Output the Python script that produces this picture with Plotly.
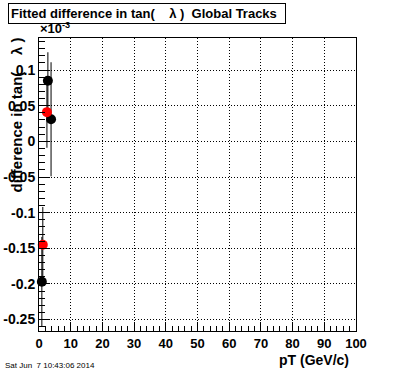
import plotly.graph_objects as go

# ---- data (y values in units of 1e-3) ----
black_pt = [0.9, 2.8, 3.8]
black_val = [-0.197, 0.085, 0.031]
black_err = [0.063, 0.040, 0.080]

red_pt = [1.2, 2.5]
red_val = [-0.145, 0.041]
red_err = [0.053, 0.050]

y_ticks = [-0.25, -0.2, -0.15, -0.1, -0.05, 0, 0.05, 0.1]
y_ticklabels = ["-0.25", "-0.2", "-0.15", "-0.1", "-0.05", "0", "0.05", "0.1"]
x_ticks = [0, 10, 20, 30, 40, 50, 60, 70, 80, 90, 100]

W, H = 396, 372
L, R, T, B = 39, 40, 38, 41
PW, PH = W - L - R, H - T - B


def px(xp):
    return (xp - L) / PW


def py(yp):
    return 1 - (yp - T) / PH


FONT = "Liberation Sans"
GRID_DASH = "1px,2px"

fig = go.Figure()
fig.add_trace(go.Scatter(
    x=black_pt, y=black_val, mode="markers",
    marker=dict(color="black", size=10),
    error_y=dict(type="data", array=black_err, color="black", thickness=1, width=0),
    showlegend=False, cliponaxis=False, hoverinfo="skip",
))
fig.add_trace(go.Scatter(
    x=red_pt, y=red_val, mode="markers",
    marker=dict(color="red", size=10),
    error_y=dict(type="data", array=red_err, color="black", thickness=1, width=0),
    showlegend=False, cliponaxis=False, hoverinfo="skip",
))

fig.update_layout(
    width=W, height=H,
    margin=dict(l=L, r=R, t=T, b=B, autoexpand=False),
    paper_bgcolor="white", plot_bgcolor="white",
    font=dict(family=FONT, color="black"),
    xaxis=dict(
        range=[0, 100], tickvals=x_ticks, automargin=False,
        showline=True, linecolor="black", linewidth=1, mirror=True,
        ticks="inside", ticklen=9, tickcolor="black",
        minor=dict(dtick=2, ticks="inside", ticklen=5, tickcolor="black", showgrid=False),
        showgrid=True, gridcolor="black", griddash=GRID_DASH, gridwidth=1,
        zeroline=False,
        tickfont=dict(size=13, family=FONT, weight="bold"),
    ),
    yaxis=dict(
        range=[-0.266, 0.145], tickvals=y_ticks, ticktext=y_ticklabels, automargin=False,
        showline=True, linecolor="black", linewidth=1, mirror=True,
        ticks="inside", ticklen=11, tickcolor="black",
        minor=dict(dtick=0.01, ticks="inside", ticklen=6, tickcolor="black", showgrid=False),
        showgrid=True, gridcolor="black", griddash=GRID_DASH, gridwidth=1,
        zeroline=False,
        tickfont=dict(size=14, family=FONT, weight="bold"),
    ),
)

annots = [
    dict(text="Fitted difference in tan(\u00a0\u00a0\u00a0\u00a0\u03bb )\u00a0 Global Tracks",
         x=px(8), y=py(3), xanchor="left", yanchor="top",
         font=dict(size=13, weight="bold"), bordercolor="black", borderwidth=1,
         bgcolor="white", borderpad=2, width=272, align="left"),
    dict(text="\u00d710<sup>-3</sup>", x=px(38), y=py(38), xanchor="left", yanchor="bottom",
         font=dict(size=13, weight="bold")),
    dict(text="difference in tan(\u00a0\u00a0\u00a0\u00a0\u03bb )", x=px(16), y=py(36),
         xanchor="center", yanchor="top", textangle=-90,
         font=dict(size=15, weight="bold")),
    dict(text="pT (GeV/c)", x=px(351), y=py(360), xanchor="right", yanchor="middle",
         font=dict(size=14, weight="bold")),
    dict(text="Sat Jun\u00a0 7 10:43:06 2014", x=px(3), y=py(365), xanchor="left", yanchor="middle",
         font=dict(size=8)),
]
for a in annots:
    a.update(xref="paper", yref="paper", showarrow=False)
    fig.add_annotation(**a)

fig.write_html("out.html",
               config={"displayModeBar": False, "staticPlot": True},
               post_script="document.body.style.margin='0';document.body.style.padding='0';")
